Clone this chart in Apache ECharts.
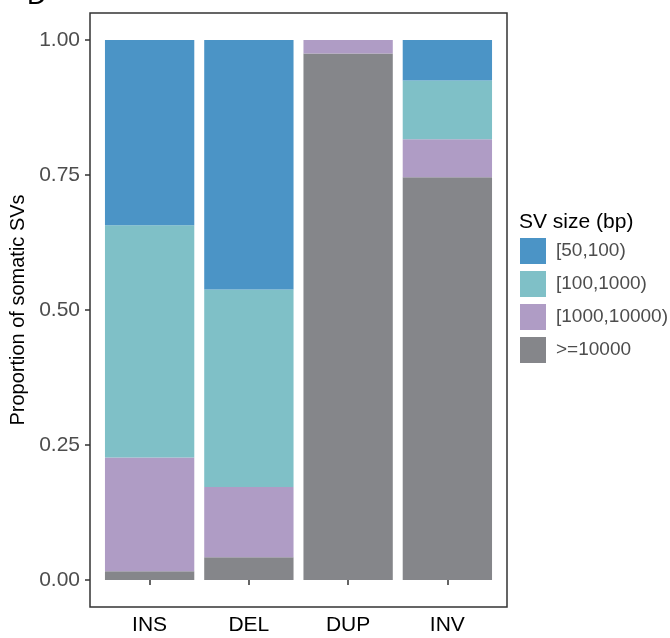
<!DOCTYPE html>
<html>
<head>
<meta charset="utf-8">
<script src="https://cdn.jsdelivr.net/npm/echarts@6/dist/echarts.min.js"></script>
<style>
  html, body { margin: 0; padding: 0; background: #fff; }
  #chart { width: 670px; height: 638px; }
</style>
</head>
<body>
<div id="chart"></div>
<script>
// categories on the x axis
const svTypes = ['INS', 'DEL', 'DUP', 'INV']
// proportion of each size bin, per SV type (bottom of stack first)
const ge10000 = [0.016, 0.042, 0.975, 0.746]
const bin1000to10000 = [0.211, 0.130, 0.025, 0.070]
const bin100to1000 = [0.430, 0.366, 0, 0.109]
const bin50to100 = [0.343, 0.462, 0, 0.075]
// legend order (top to bottom)
const sizeBins = ['[50,100)', '[100,1000)', '[1000,10000)', '>=10000']
const yTicks = [0, 0.25, 0.5, 0.75, 1]

const colors = {
  '[50,100)': '#4b94c6',
  '[100,1000)': '#7fc0c7',
  '[1000,10000)': '#af9cc5',
  '>=10000': '#85868a',
}
const font = 'Liberation Sans, Arial, sans-serif'

const chart = echarts.init(document.getElementById('chart'))

const mkSeries = (name, arr) => ({
  name,
  type: 'bar',
  stack: 'total',
  barWidth: '90%',
  itemStyle: { color: colors[name] },
  emphasis: { disabled: true },
  data: arr,
})

chart.setOption({
  animation: false,
  textStyle: { fontFamily: font },
  // bars area; panel border drawn a bit wider (ggplot discrete expansion)
  grid: {
    left: 100,
    right: 173,
    top: 13,
    bottom: 31,
  },
  graphic: [
    {
      type: 'rect',
      z: 10,
      shape: { x: 90, y: 13, width: 417, height: 594 },
      style: { fill: 'none', stroke: '#333333', lineWidth: 1.5 },
    },
    {
      type: 'text',
      left: 27,
      top: -17,
      style: { text: 'D', fontSize: 27, fill: '#000', fontFamily: font },
    },
    {
      type: 'text',
      left: 519,
      top: 212,
      style: { text: 'SV size (bp)', fontSize: 21, fill: '#000', fontFamily: font },
    },
  ],
  legend: {
    orient: 'vertical',
    left: 515,
    top: 233,
    itemWidth: 26,
    itemHeight: 26,
    itemGap: 7,
    icon: 'rect',
    selectedMode: false,
    data: sizeBins,
    textStyle: { color: '#4d4d4d', fontSize: 19, padding: [0, 0, 0, 5], fontFamily: font },
  },
  xAxis: {
    type: 'category',
    data: svTypes,
    axisLine: { show: false },
    axisTick: {
      show: true,
      alignWithLabel: true,
      length: 5,
      lineStyle: { color: '#333333', width: 1.5 },
    },
    axisLabel: {
      color: '#000',
      fontSize: 21,
      margin: 8,
    },
  },
  yAxis: {
    type: 'value',
    min: -0.05,
    max: 1.05,
    offset: 10,
    name: 'Proportion of somatic SVs',
    nameLocation: 'middle',
    nameGap: 58,
    nameTextStyle: { color: '#000', fontSize: 20 },
    splitLine: { show: false },
    axisLine: { show: false },
    axisTick: {
      show: true,
      length: 5,
      customValues: yTicks,
      lineStyle: { color: '#333333', width: 1.5 },
    },
    axisLabel: {
      customValues: yTicks,
      formatter: (v) => v.toFixed(2),
      color: '#4d4d4d',
      fontSize: 21,
      margin: 10,
    },
  },
  series: [
    mkSeries('>=10000', ge10000),
    mkSeries('[1000,10000)', bin1000to10000),
    mkSeries('[100,1000)', bin100to1000),
    mkSeries('[50,100)', bin50to100),
  ],
})
</script>
</body>
</html>
